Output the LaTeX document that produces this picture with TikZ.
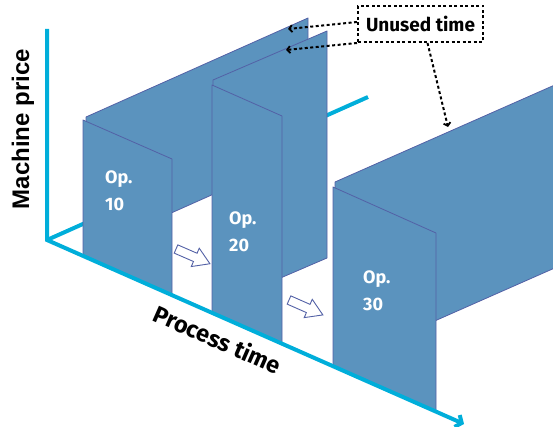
\documentclass[tikz,border=0pt]{standalone}
\usepackage{fontspec}
\newfontfamily\fira{Fira Sans}
\newfontfamily\libsans{Liberation Sans}
\usetikzlibrary{arrows.meta}
\definecolor{panelblue}{HTML}{5B93BE}
\definecolor{edgeblue}{HTML}{5361A6}
\definecolor{axiscyan}{HTML}{00AEDA}
\begin{document}
\begin{tikzpicture}[x=1pt,y=-1pt,
  panel/.style={fill=panelblue, draw=edgeblue, line width=0.8pt, line join=round},
  axisline/.style={draw=axiscyan, line width=4pt},
  optext/.style={text=white, font=\fira\bfseries\fontsize{18}{27}\selectfont, align=left, inner sep=0pt, anchor=north west},
  dotline/.style={draw=black, line width=2pt, dash pattern=on 3pt off 2.5pt},
  dotarrow/.style={dotline, -{Straight Barb[length=3pt,width=7pt,line width=1.8pt]}},
  hollowarrow/.style={fill=white, draw=edgeblue, line width=0.9pt, line join=miter}]
\useasboundingbox (0,0) rectangle (553,427);
% axes anchor points
\coordinate (O) at (47,240);
\coordinate (Ytop) at (47,29);
\coordinate (Dend) at (368,97);
\coordinate (Xend) at (464,424);
% depth axis (behind everything)
\draw[axisline] (O) -- (Dend);
% Op. 10
\draw[panel] (86,117) -- (308,18) -- (308,152) -- (86,251) -- cycle;
\draw[panel] (83,120) -- (172,159) -- (172,295) -- (83,256) -- cycle;
% Op. 20
\draw[panel] (213,80) -- (327,31) -- (327,258) -- (213,307) -- cycle;
\draw[panel] (212,85) -- (282,116) -- (282,344) -- (212,313) -- cycle;
% Op. 30
\draw[panel] (335,182) -- (600,65) -- (600,248) -- (335,365) -- cycle;
\draw[panel] (333,187) -- (436,233) -- (436,412) -- (333,366) -- cycle;
% price and process axes
\draw[axisline, line join=miter, -{Straight Barb[length=5pt,width=13pt]}] (Ytop) -- (O) -- (Xend);
% hollow arrows between operations
\begin{scope}[shift={(176,249)}, rotate=-23.5]
  \draw[hollowarrow] (0,-4.5) -- (21,-4.5) -- (21,-10) -- (37,0) -- (21,10) -- (21,4.5) -- (0,4.5) -- cycle;
\end{scope}
\begin{scope}[shift={(289,300)}, rotate=-23.8]
  \draw[hollowarrow] (0,-4.5) -- (21,-4.5) -- (21,-10) -- (37,0) -- (21,10) -- (21,4.5) -- (0,4.5) -- cycle;
\end{scope}
% operation labels
\node[optext] (op10) at (105,171) {Op.\\10};
\node[optext] (op20) at (229,212) {Op.\\20};
\node[optext] (op30) at (363,271) {Op.\\30};
% axis labels
\node[rotate=90, inner sep=0pt, font=\libsans\bfseries\fontsize{24}{27}\selectfont] (ylab) at (23,129) {Machine price};
\node[rotate=-23.8, inner sep=0pt, font=\fira\bfseries\fontsize{23.5}{27}\selectfont] (xlab) at (218,339) {Process time};
% unused time callout
\node[dotline, minimum width=125pt, minimum height=36pt, inner sep=0pt, font=\fira\bfseries\fontsize{19}{22}\selectfont] (unused) at (420.5,24) {Unused time};
\coordinate (t1) at (288,29);
\coordinate (t2) at (286,50);
\coordinate (t3) at (448,127);
\draw[dotarrow] ([yshift=2pt]unused.west) -- (t1);
\draw[dotarrow] (unused.south west) -- (t2);
\draw[dotarrow] ([xshift=7pt]unused.south) -- (t3);
\end{tikzpicture}
\end{document}
